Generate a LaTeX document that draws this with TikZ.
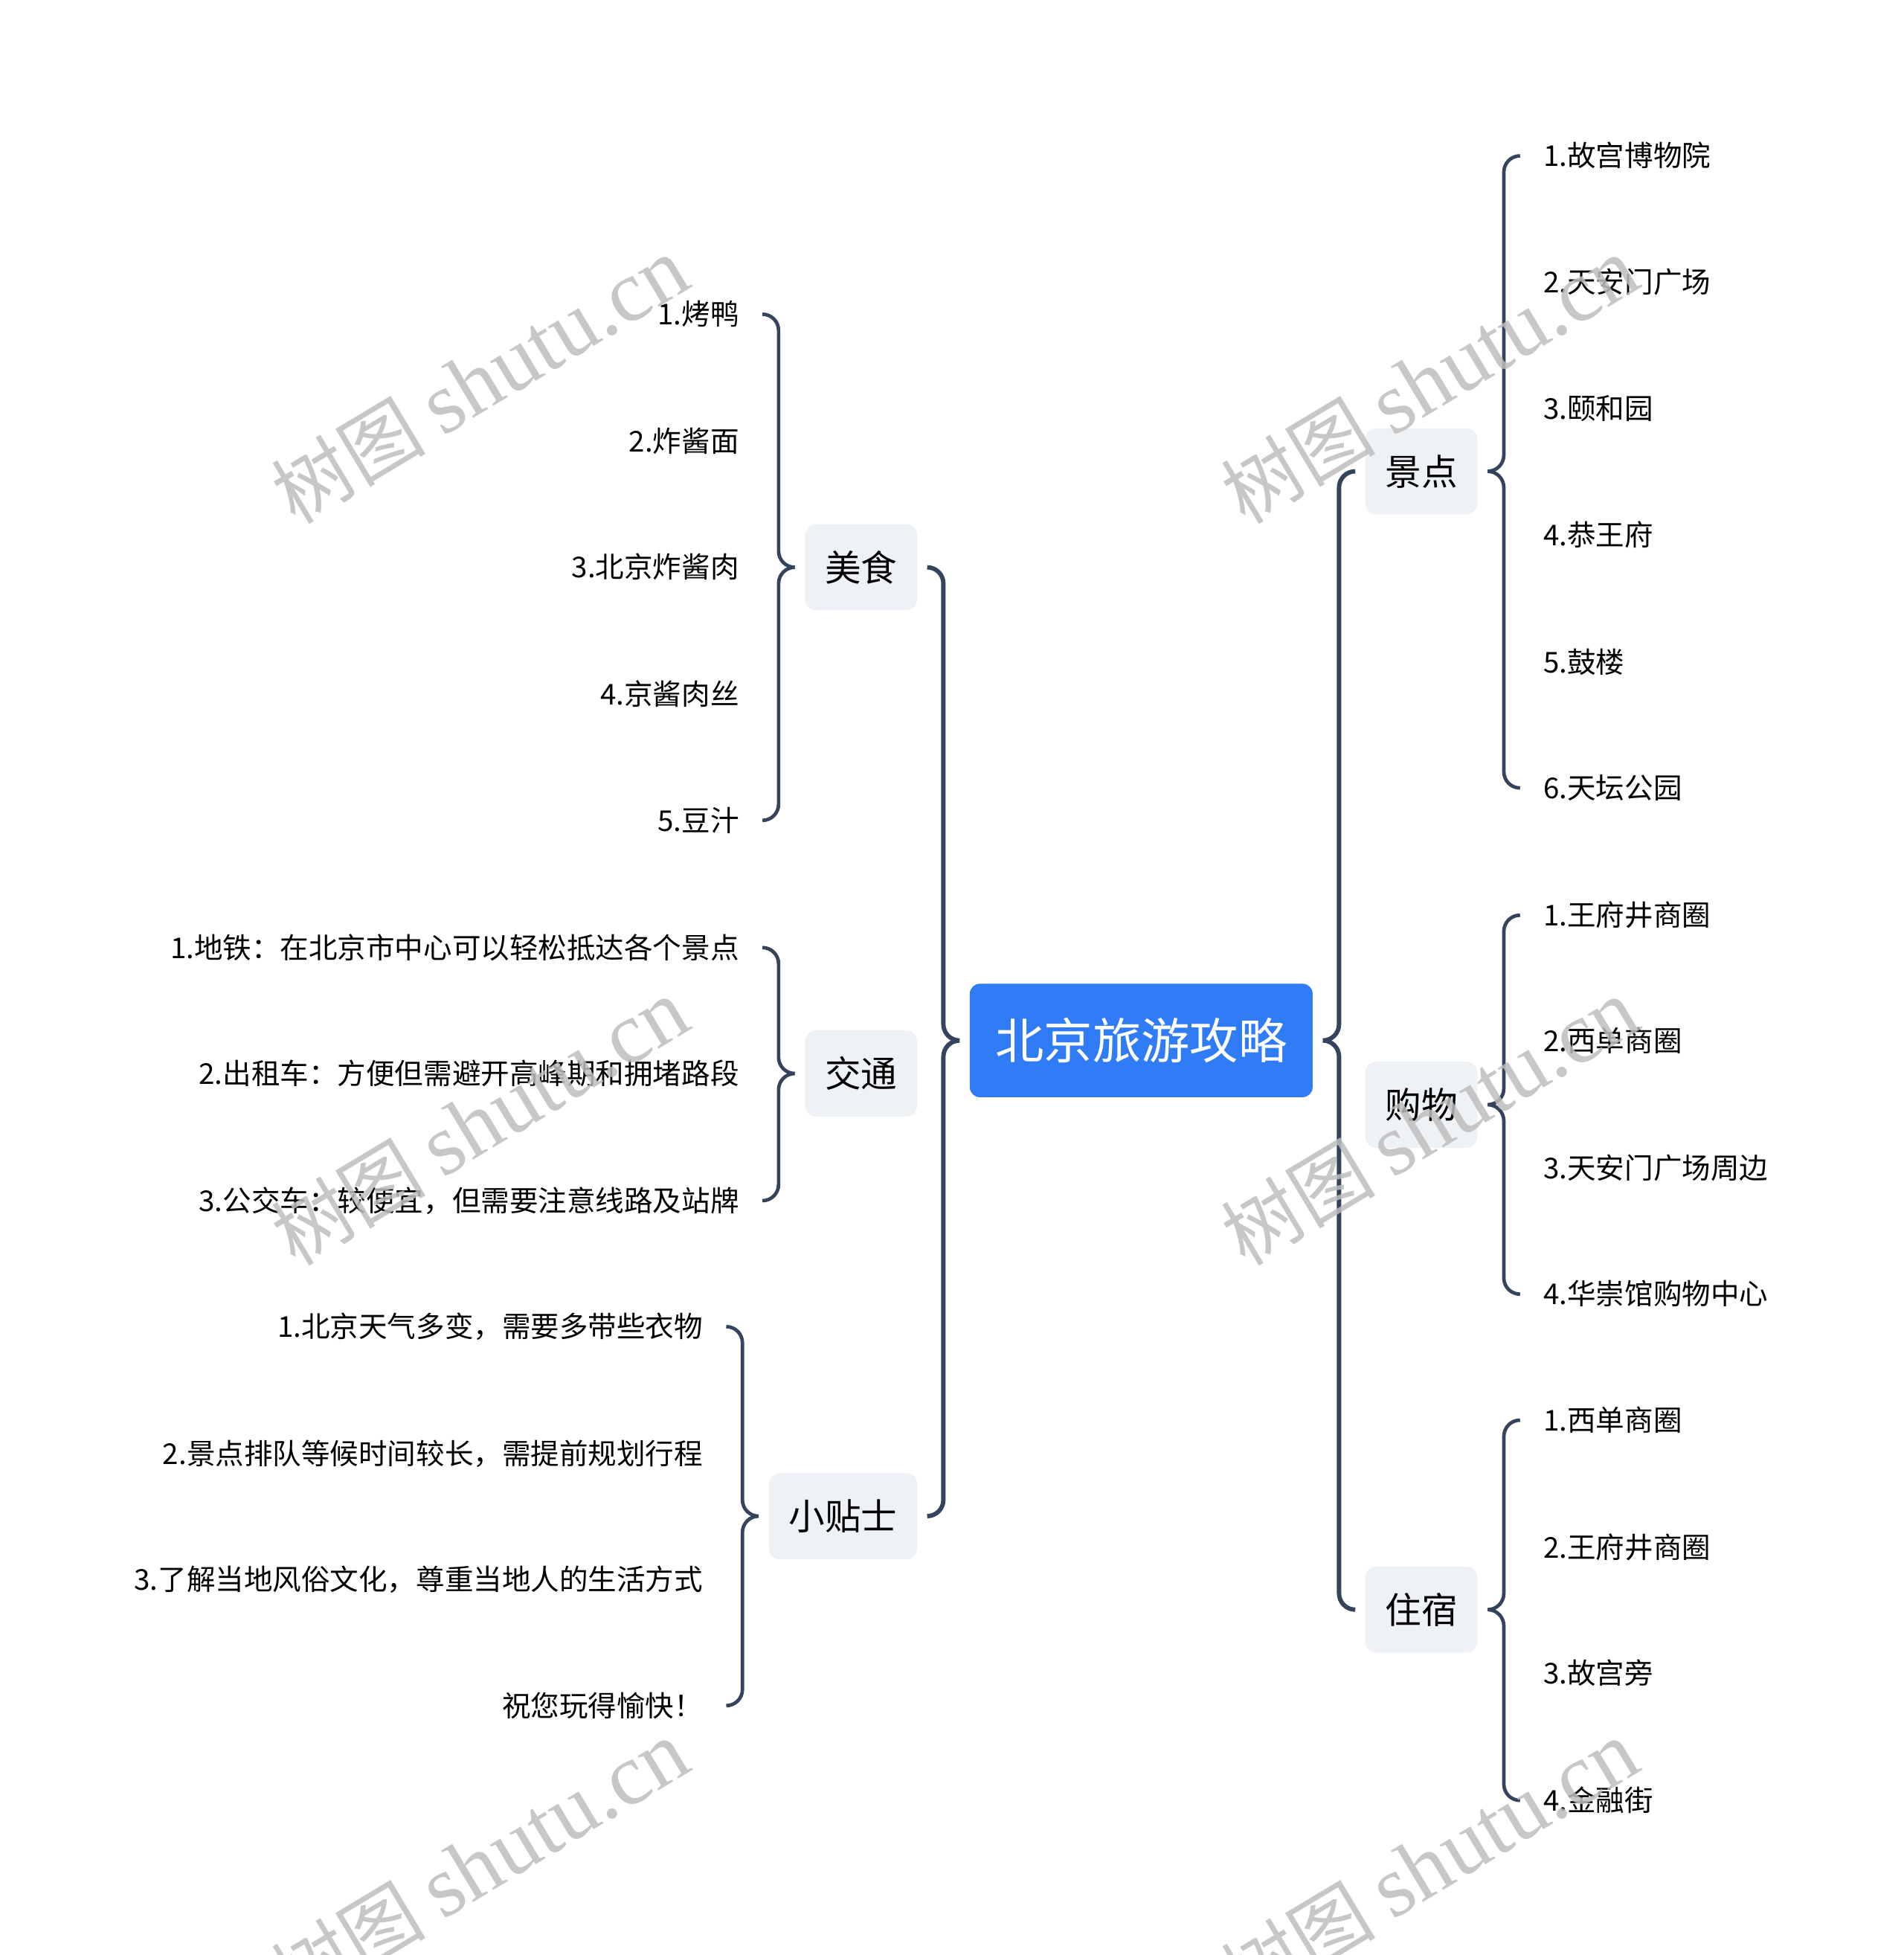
\documentclass[tikz,border=0pt]{standalone}
\usepackage{fontspec}
\newfontfamily\cjk{Noto Sans CJK SC}
\newfontfamily\wmserif{Liberation Serif}
\usetikzlibrary{calc}
\definecolor{linec}{HTML}{33445C}
\definecolor{rootc}{HTML}{2F7CF6}
\definecolor{boxc}{HTML}{EEF1F5}
\definecolor{wmc}{HTML}{BEBEBE}
\newcommand\braceright[4]{%
  \draw[#1] let \p1=(#2.east), \p2=(#3.west), \p3=(#4.west) in
    (\x1+8pt,\y1) -- (\x1+21pt,\y1) -- (\x1+21pt,\y2) -- (\x1+34pt,\y2)
    (\x1+8pt,\y1) -- (\x1+21pt,\y1) -- (\x1+21pt,\y3) -- (\x1+34pt,\y3);}
\newcommand\braceleft[4]{%
  \draw[#1] let \p1=(#2.west), \p2=(#3.east), \p3=(#4.east) in
    (\x1-8pt,\y1) -- (\x1-21pt,\y1) -- (\x1-21pt,\y2) -- (\x1-34pt,\y2)
    (\x1-8pt,\y1) -- (\x1-21pt,\y1) -- (\x1-21pt,\y3) -- (\x1-34pt,\y3);}
\begin{document}
\begin{tikzpicture}[x=1pt,y=-1pt,
  rootbox/.style={fill=rootc, rounded corners=8pt, text=white, font=\cjk\fontsize{39}{44}\selectfont, minimum height=91pt, minimum width=275pt, inner sep=0pt},
  topic/.style={fill=boxc, rounded corners=9pt, text=black, font=\cjk\fontsize{29}{34}\selectfont, minimum height=69pt, inner xsep=16pt, inner ysep=0pt},
  leaf/.style={font=\cjk\fontsize{23}{28}\selectfont, inner sep=0pt, text height=20pt, text depth=3pt, text=black},
  link/.style={draw=linec, line width=3.5pt, rounded corners=13pt},
  sublink/.style={draw=linec, line width=2.8pt, rounded corners=13pt},
  wm/.style={text=wmc, rotate=31, inner sep=0pt, opacity=0.85}
]
\useasboundingbox (0,0) rectangle (1527,1568);
\fill[white] (0,0) rectangle (1527,1568);

% root
\node[rootbox] (root) at (915.5,834.5) {北京旅游攻略};

% level 1 left
\node[topic, anchor=east] (food) at (736,455) {美食};
\node[topic, anchor=east] (traffic) at (736,861) {交通};
\node[topic, anchor=east] (tips) at (736,1216) {小贴士};
% level 1 right
\node[topic, anchor=west] (sights) at (1095,378) {景点};
\node[topic, anchor=west] (shop) at (1095,886) {购物};
\node[topic, anchor=west] (stay) at (1095,1291) {住宿};

% sights
\node[leaf, anchor=west] (s1) at (1238,125) {1.故宫博物院};
\node[leaf, anchor=west] (s2) at (1238,226) {2.天安门广场};
\node[leaf, anchor=west] (s3) at (1238,328) {3.颐和园};
\node[leaf, anchor=west] (s4) at (1238,429) {4.恭王府};
\node[leaf, anchor=west] (s5) at (1238,531) {5.鼓楼};
\node[leaf, anchor=west] (s6) at (1238,632) {6.天坛公园};
% shopping
\node[leaf, anchor=west] (p1) at (1238,734) {1.王府井商圈};
\node[leaf, anchor=west] (p2) at (1238,835) {2.西单商圈};
\node[leaf, anchor=west] (p3) at (1238,937) {3.天安门广场周边};
\node[leaf, anchor=west] (p4) at (1238,1038) {4.华崇馆购物中心};
% stay
\node[leaf, anchor=west] (h1) at (1238,1139) {1.西单商圈};
\node[leaf, anchor=west] (h2) at (1238,1241) {2.王府井商圈};
\node[leaf, anchor=west] (h3) at (1238,1342) {3.故宫旁};
\node[leaf, anchor=west] (h4) at (1238,1444) {4.金融街};
% food
\node[leaf, anchor=east] (f1) at (593,252) {1.烤鸭};
\node[leaf, anchor=east] (f2) at (593,354) {2.炸酱面};
\node[leaf, anchor=east] (f3) at (593,455) {3.北京炸酱肉};
\node[leaf, anchor=east] (f4) at (593,557) {4.京酱肉丝};
\node[leaf, anchor=east] (f5) at (593,658) {5.豆汁};
% traffic
\node[leaf, anchor=east] (t1) at (593,760) {1.地铁：在北京市中心可以轻松抵达各个景点};
\node[leaf, anchor=east] (t2) at (593,861) {2.出租车：方便但需避开高峰期和拥堵路段};
\node[leaf, anchor=east] (t3) at (593,963) {3.公交车：较便宜，但需要注意线路及站牌};
% tips
\node[leaf, anchor=east] (x1) at (564,1064) {1.北京天气多变，需要多带些衣物};
\node[leaf, anchor=east] (x2) at (564,1166) {2.景点排队等候时间较长，需提前规划行程};
\node[leaf, anchor=east] (x3) at (564,1267) {3.了解当地风俗文化，尊重当地人的生活方式};
\node[leaf, anchor=east] (x4) at (564,1368) {祝您玩得愉快！};

% connectors
\braceleft{link}{root}{food}{tips}
\braceright{link}{root}{sights}{stay}
\braceright{sublink}{sights}{s1}{s6}
\braceright{sublink}{shop}{p1}{p4}
\braceright{sublink}{stay}{h1}{h4}
\braceleft{sublink}{food}{f1}{f5}
\braceleft{sublink}{traffic}{t1}{t3}
\braceleft{sublink}{tips}{x1}{x4}

% watermarks
\foreach \i/\px/\py in {1/385/305, 2/1147/305, 3/385/900, 4/1147/900, 5/385/1495, 6/1147/1495}{
  \node[wm] (wm\i) at (\px,\py) {\cjk\fontsize{62}{70}\selectfont 树图 \wmserif\fontsize{70}{80}\selectfont shutu.cn};
}
\end{tikzpicture}
\end{document}
